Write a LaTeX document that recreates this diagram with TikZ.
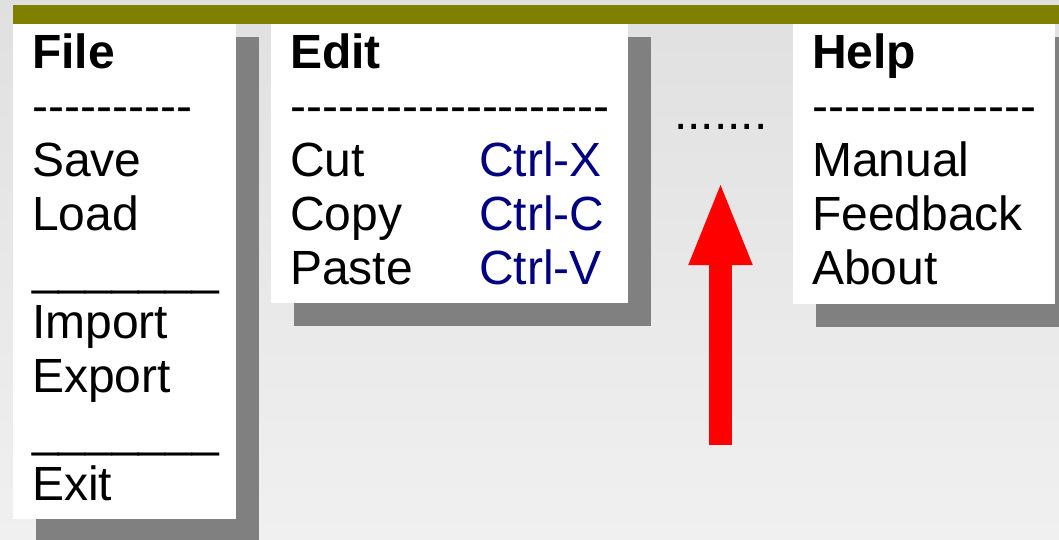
\documentclass[tikz,border=0pt]{standalone}
\usepackage{fontspec}
\newfontfamily\menufont{Liberation Sans}
\usetikzlibrary{arrows.meta,backgrounds}
\definecolor{barolive}{RGB}{128,128,0}
\definecolor{shadowgray}{RGB}{128,128,128}
\definecolor{keyblue}{RGB}{0,0,128}
\definecolor{bgtop}{RGB}{224,224,224}
\definecolor{bgbottom}{RGB}{240,240,240}

\begin{document}
\begin{tikzpicture}[x=1pt,y=-1pt,
  menubox/.style={rectangle, fill=white, inner sep=0pt, anchor=north west},
  entry/.style={inner sep=0pt, anchor=base west, font=\menufont\fontsize{48}{54}\selectfont},
  title/.style={entry, font=\menufont\bfseries\fontsize{48}{54}\selectfont},
  shortcut/.style={entry, text=keyblue}]
\def\W{1059} \def\H{539}
\def\dy{54} % row height
\def\yo{68} % first baseline

\useasboundingbox (0,0) rectangle (\W,\H);
\fill[barolive] (13,5) rectangle (\W,24);

\node[menubox, minimum width=223pt, minimum height=495pt] (file) at (13,24) {};
\node[menubox, minimum width=357pt, minimum height=279pt] (edit) at (271,24) {};
\node[menubox, minimum width=262pt, minimum height=280pt] (help) at (793,24) {};

% File menu
\node[title] (filetitle) at (32,\yo) {File};
\foreach \t [count=\i] in {----------, Save, Load, \_\_\_\_\_\_\_, Import, Export, \_\_\_\_\_\_\_, Exit}
  \node[entry] (file\i) at (32,\yo+\dy*\i) {\t};

% Edit menu
\node[title] (edittitle) at (290,\yo) {Edit};
\node[entry] (edit1) at (290,\yo+\dy) {--------------------};
\foreach \t/\k [count=\i from 2] in {Cut/X, Copy/C, Paste/V} {
  \node[entry] (edit\i) at (290,\yo+\dy*\i) {\t};
  \node[shortcut] (key\i) at (479,\yo+\dy*\i) {Ctrl-\k};
}

\node[entry] (more) at (674,129) {.......};

% Help menu
\node[title] (helptitle) at (812,\yo) {Help};
\foreach \t [count=\i] in {--------------, Manual, Feedback, About}
  \node[entry] (help\i) at (812,\yo+\dy*\i) {\t};

\coordinate (arrowfoot) at (720.5,445);
\coordinate (arrowtip) at (720.5,180);
\draw[red, line width=23pt, -{Triangle[length=85pt, width=57pt]}] (arrowfoot) -- (arrowtip);

\begin{pgfonlayer}{background}
\shade[top color=bgtop, bottom color=bgbottom] (0,0) rectangle (\W,\H);
\foreach \m in {file,edit,help}
  \fill[shadowgray] ([shift={(23pt,-13pt)}]\m.north west) rectangle ([shift={(23pt,-23pt)}]\m.south east);
\end{pgfonlayer}
\end{tikzpicture}
\end{document}
